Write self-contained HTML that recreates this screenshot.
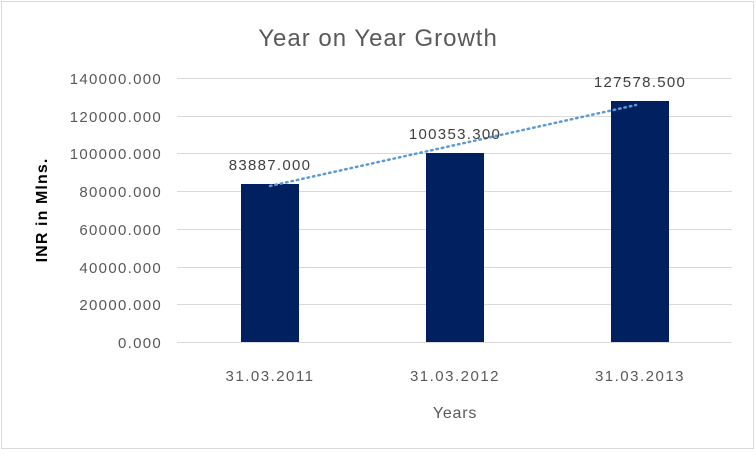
<!DOCTYPE html>
<html><head><style>body{margin:0;background:#fff}</style></head><body>
<svg width="756" height="451" xmlns="http://www.w3.org/2000/svg" font-family="Liberation Sans, sans-serif">
<rect x="1.5" y="1.5" width="752" height="447" fill="#fff" stroke="#d9d9d9"/>
<text x="378" y="46" font-size="24" fill="#595959" text-anchor="middle" letter-spacing="1">Year on Year Growth</text>
<g stroke="#d9d9d9" stroke-width="1">
<line x1="177" x2="732" y1="78.5" y2="78.5"/><line x1="177" x2="732" y1="116.5" y2="116.5"/>
<line x1="177" x2="732" y1="153.5" y2="153.5"/><line x1="177" x2="732" y1="191.5" y2="191.5"/>
<line x1="177" x2="732" y1="229.5" y2="229.5"/><line x1="177" x2="732" y1="267.5" y2="267.5"/>
<line x1="177" x2="732" y1="304.5" y2="304.5"/><line x1="177" x2="732" y1="342.5" y2="342.5"/>
</g>
<g font-size="15" fill="#595959" text-anchor="end" letter-spacing="1.3">
<text x="162" y="84">140000.000</text><text x="162" y="122">120000.000</text>
<text x="162" y="159">100000.000</text><text x="162" y="197">80000.000</text>
<text x="162" y="235">60000.000</text><text x="162" y="273">40000.000</text>
<text x="162" y="310">20000.000</text><text x="162" y="348">0.000</text>
</g>
<g fill="#002060">
<rect x="241" y="184" width="58" height="158"/>
<rect x="426" y="153" width="58" height="189"/>
<rect x="611" y="101" width="58" height="241"/>
</g>
<line x1="270" y1="186" x2="636" y2="105" stroke="#5b9bd5" stroke-width="2.5" stroke-dasharray="1.5 4" stroke-linecap="round"/>
<g font-size="15" fill="#404040" text-anchor="middle" letter-spacing="1.3">
<text x="270" y="170">83887.000</text><text x="455" y="139">100353.300</text><text x="640" y="87">127578.500</text>
</g>
<g font-size="15" fill="#595959" text-anchor="middle" letter-spacing="1.5">
<text x="270" y="381">31.03.2011</text><text x="455" y="381">31.03.2012</text><text x="640" y="381">31.03.2013</text>
<text x="455" y="418" font-size="16" letter-spacing="0.8">Years</text>
</g>
<text transform="translate(47,210) rotate(-90)" font-size="16" font-weight="bold" fill="#000" text-anchor="middle" letter-spacing="1.1">INR in Mlns.</text>
</svg>
</body></html>
